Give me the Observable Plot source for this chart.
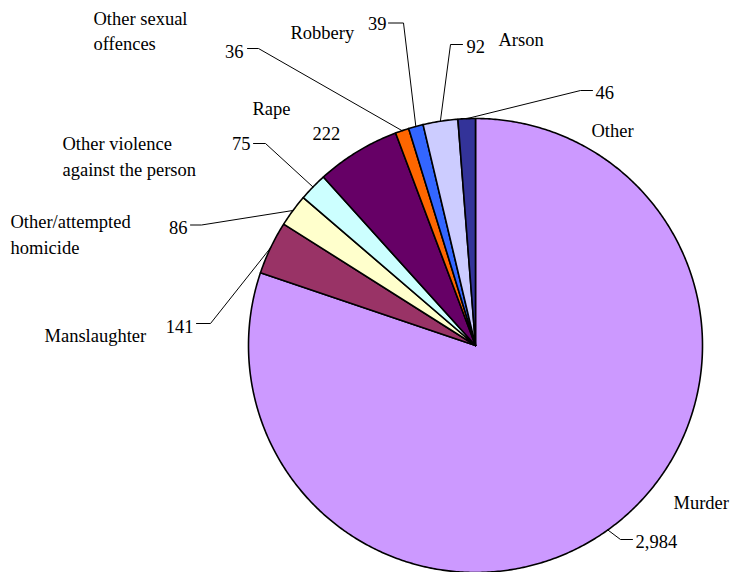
<!DOCTYPE html>
<html>
<head>
<meta charset="utf-8">
<script src="https://cdn.jsdelivr.net/npm/d3@7"></script>
<script src="https://cdn.jsdelivr.net/npm/@observablehq/plot@0.6"></script>
<style>
  html, body { margin: 0; padding: 0; background: #fff; }
  #chart { width: 731px; height: 572px; overflow: hidden; }
</style>
</head>
<body>
<div id="chart"></div>
<script>
// ---- Data ----
const categories = ["Murder", "Manslaughter", "Other/attempted homicide", "Other violence against the person", "Rape", "Other sexual offences", "Robbery", "Arson", "Other"];
const values = [2984, 141, 86, 75, 222, 36, 39, 92, 46];
const labelTexts = ["Murder", "Manslaughter", "Other/attempted\nhomicide", "Other violence\nagainst the person", "Rape", "Other sexual\noffences", "Robbery", "Arson", "Other"];
const colors = ["#CC99FF", "#993366", "#FFFFCC", "#CCFFFF", "#660066", "#FF6600", "#3366FF", "#CCCCFF", "#333399"];

// ---- Layout (pixel positions of labels, in page coordinates) ----
const W = 731, H = 572, CX = 475, CY = 345, R = 227;
const nameLayout = {
  "Murder": {x: 673, y: 500, a: "start"},
  "Manslaughter": {x: 44, y: 333, a: "start"},
  "Other/attempted homicide": {x: 10, y: 232.5, a: "start"},
  "Other violence against the person": {x: 62, y: 154.5, a: "start"},
  "Rape": {x: 252, y: 106, a: "start"},
  "Other sexual offences": {x: 93, y: 29, a: "start"},
  "Robbery": {x: 290, y: 30, a: "start"},
  "Arson": {x: 498, y: 37, a: "start"},
  "Other": {x: 591, y: 128, a: "start"}
};
const valueLayout = {
  "Murder": {x: 635, y: 542, a: "start", lead: [[632, 539], [620, 539]]},
  "Manslaughter": {x: 193, y: 327, a: "end", lead: [[196, 323], [210, 323]]},
  "Other/attempted homicide": {x: 187, y: 228, a: "end", lead: [[190, 224.5], [201, 224.5]]},
  "Other violence against the person": {x: 250, y: 144, a: "end", lead: [[253, 143], [265, 143]]},
  "Rape": {x: 312, y: 134, a: "start", lead: null},
  "Other sexual offences": {x: 243, y: 52, a: "end", lead: [[247, 48], [258, 48]]},
  "Robbery": {x: 386, y: 24, a: "end", lead: [[388, 22.5], [403, 22.5]]},
  "Arson": {x: 466, y: 47, a: "start", lead: [[462, 44], [450, 44]]},
  "Other": {x: 595, y: 93, a: "start", lead: [[592, 90], [580, 90]]}
};

// pixel -> data units (1 unit = pie radius)
const ux = px => (px - CX) / R;
const uy = py => (CY - py) / R;

// ---- Build slices ----
const data = categories.map((c, i) => ({category: c, value: values[i], label: labelTexts[i]}));
const arcs = d3.pie().value(d => d.value).sort(null).startAngle(0).endAngle(2 * Math.PI)(data);

const slicePts = [];
arcs.forEach(a => {
  const c = a.data.category;
  slicePts.push({category: c, x: 0, y: 0});
  const n = Math.max(2, Math.ceil((a.endAngle - a.startAngle) / (Math.PI / 360)));
  for (let k = 0; k <= n; k++) {
    const t = a.startAngle + (a.endAngle - a.startAngle) * k / n;
    slicePts.push({category: c, x: Math.sin(t), y: Math.cos(t)});
  }
});

// ---- Leader lines ----
const leaderPts = [];
arcs.forEach(a => {
  const c = a.data.category;
  const L = valueLayout[c];
  if (!L.lead) return;
  const mid = (a.startAngle + a.endAngle) / 2;
  L.lead.forEach(p => leaderPts.push({category: c, x: ux(p[0]), y: uy(p[1])}));
  leaderPts.push({category: c, x: Math.sin(mid), y: Math.cos(mid)});
});

const nameRows = data.map(d => ({...d, ...nameLayout[d.category]}));
const valueRows = data.map(d => ({...d, ...valueLayout[d.category], text: d3.format(",")(d.value)}));

const font = "Liberation Serif, Times New Roman, DejaVu Serif, serif";

const chart = Plot.plot({
  width: W,
  height: H,
  margin: 0,
  x: {domain: [ux(0), ux(W)], axis: null},
  y: {domain: [uy(H), uy(0)], axis: null},
  color: {domain: categories, range: colors},
  style: {background: "white", overflow: "visible", fontFamily: font},
  marks: [
    Plot.line(slicePts, {x: "x", y: "y", z: "category", fill: "category", stroke: "black", strokeWidth: 1.6, curve: "linear-closed", strokeLinejoin: "round"}),
    Plot.line(leaderPts, {x: "x", y: "y", z: "category", stroke: "black", strokeWidth: 1}),
    ...["start", "end"].map(anchor =>
      Plot.text(nameRows.filter(d => d.a === anchor), {x: d => ux(d.x), y: d => uy(d.y), text: "label", textAnchor: anchor, lineAnchor: "middle", lineHeight: 1.38, fontSize: 18.5, fontFamily: font, fill: "black"})
    ),
    ...["start", "end"].map(anchor =>
      Plot.text(valueRows.filter(d => d.a === anchor), {x: d => ux(d.x), y: d => uy(d.y), text: "text", textAnchor: anchor, lineAnchor: "middle", fontSize: 18.5, fontFamily: font, fill: "black"})
    )
  ]
});

chart.querySelectorAll("text").forEach(t => t.style.fontFamily = font);
document.getElementById("chart").appendChild(chart);
</script>
</body>
</html>
